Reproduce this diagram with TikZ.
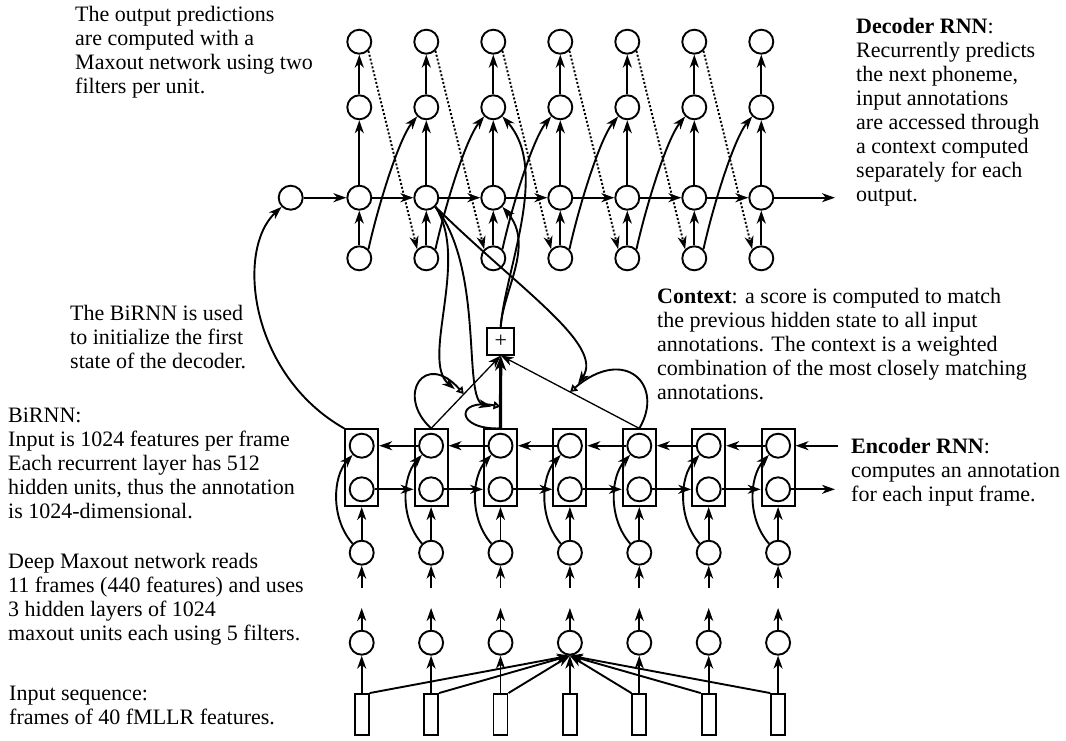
\documentclass[tikz,border=0pt]{standalone}
\usepackage{fontspec}
\setmainfont{Liberation Serif}
\usetikzlibrary{arrows.meta,calc}
\begin{document}
\begin{tikzpicture}[x=1pt,y=-1pt,
  unit/.style={circle,draw,line width=1.9pt,minimum size=24pt,inner sep=0pt},
  ebox/.style={draw,line width=1.9pt,minimum width=33pt,minimum height=76.7pt,inner sep=0pt},
  frm/.style={draw,line width=1.9pt,minimum width=14pt,minimum height=41pt,inner sep=0pt},
  pbox/.style={draw,line width=1.9pt,minimum size=26.7pt,inner sep=0pt,font=\fontsize{22}{22}\selectfont},
  arr/.style={line width=1.9pt,-{Stealth[length=13pt,width=9pt,inset=4pt]}},
  thinarr/.style={line width=1.3pt,-{Stealth[length=13pt,width=9pt,inset=4pt]}},
  thickarr/.style={line width=3.2pt,-{Stealth[length=15pt,width=11pt,inset=4.5pt]}},
  dotarr/.style={arr,dash pattern=on 2pt off 2pt},
  looparr/.style={line width=1.9pt,-{Triangle[open,length=7pt,width=8pt]}},
  txt/.style={inner sep=0pt,anchor=north west,align=left,font=\fontsize{22}{24}\selectfont}
]
\useasboundingbox (0,0) rectangle (1066,740);

% ---------------- decoder ----------------
\foreach \i in {0,...,6}{
  \pgfmathsetmacro{\xx}{359.3+67*\i}
  \node[unit] (do\i) at (\xx,41.7) {};
  \node[unit] (dm\i) at (\xx,107.3) {};
  \node[unit] (dh\i) at (\xx,197.7) {};
  \node[unit] (db\i) at (\xx,258.3) {};
}
\node[unit] (init) at (290.7,197.7) {};
\coordinate (dend) at (835,197.7);

\foreach \i in {0,...,6}{
  \draw[arr] (db\i) -- (dh\i);
  \draw[arr] (dh\i) -- (dm\i);
  \draw[arr] (dm\i) -- (do\i);
}
\draw[arr] (init) -- (dh0);
\foreach \i [count=\j] in {0,...,5}{
  \draw[arr] (dh\i) -- (dh\j);
  \draw[dotarr] (do\i.south east) -- (db\j.north west);
  \draw[arr] (db\i.north east) .. controls +(10,-45) and +(-18,22) .. (dm\j.south west);
}
\draw[arr] (dh6) -- (dend);

% ---------------- encoder ----------------
\foreach \i in {0,...,6}{
  \pgfmathsetmacro{\xx}{361.7+69.4*\i}
  \node[ebox] (eb\i) at (\xx,467.7) {};
  \node[unit] (bw\i) at (\xx,445.7) {};
  \node[unit] (fw\i) at (\xx,489.3) {};
  \node[unit] (em\i) at (\xx,552.7) {};
  \node[unit] (el\i) at (\xx,642.7) {};
  \node[frm] (fr\i) at (\xx,714.5) {};
  \coordinate (gt\i) at (\xx,608);
  \coordinate (gb\i) at (\xx,588);
}
\foreach \i in {0,...,6}{
  \draw[arr] (em\i) -- (eb\i);
  \draw[arr] (el\i) -- (gt\i);
  \draw[arr] (gb\i) -- (em\i);
  \draw[arr] (fr\i) -- (el\i);
  \draw[arr] (em\i.north west) .. controls +(-22,-25) and +(-20,22) .. (bw\i.south west);
}
\foreach \i [count=\j] in {0,...,5}{
  \draw[arr] (fw\i) -- (eb\j.west |- fw\j);
  \draw[arr] (bw\j) -- (eb\i.east |- bw\i);
}
\coordinate (efend) at (835,489.3);
\coordinate (ebstart) at (838,445.7);
\draw[arr] (fw6) -- (efend);
\draw[arr] (ebstart) -- (eb6.east |- bw6);
\foreach \i in {0,1,2}{ \draw[arr] (fr\i.north east) -- (el3.south); }
\foreach \i in {4,5,6}{ \draw[arr] (fr\i.north west) -- (el3.south); }

% BiRNN -> first decoder state
\draw[arr] (eb0.north west) .. controls (250,375) and (235,250) .. (init.south west);

% ---------------- attention / context ----------------
\node[pbox] (plus) at (500.7,341.2) {+};
\coordinate (g1) at ($(eb1.north)!0.47!(plus.south)$);
\coordinate (g2) at ($(eb2.north)!0.3!(plus.south)$);
\coordinate (g4) at ($(eb4.north)!0.5!(plus.south)$);
\draw[thinarr] (eb1.north) -- (plus.south);
\draw[thinarr] (eb4.north) -- (plus.south);
\draw[thickarr] (eb2.north) -- (plus.south);

\draw[looparr] (eb1.north) .. controls (395,395) and (425,350) .. (g1);
\draw[looparr] (eb2.north) .. controls (455,430) and (455,398) .. (g2);
\draw[looparr] (eb4.north) .. controls (665,385) and (625,345) .. (g4);

\coordinate (h1) at ($(g1)+(-9,-5)$);
\coordinate (h2) at ($(g2)+(-9,0)$);
\coordinate (h4) at ($(g4)+(8,-8)$);
\draw[arr] (dh1.south east) .. controls (470,260) and (420,360) .. (h1);
\draw[arr] (dh1.south east) .. controls (485,270) and (462,400) .. (h2);
\draw[arr] (dh1.south east) .. controls (520,290) and (605,345) .. (h4);

\draw[arr] (plus.north) .. controls (503,290) and (535,245) .. (dh2.south east);
\draw[arr] (plus.north) .. controls (505,270) and (550,170) .. (dm2.south east);

% ---------------- texts ----------------
\node[txt] (tout) at (75,6.5) {The output predictions\\are computed with a\\Maxout network using two\\filters per unit.};
\node[txt] (tdec) at (856,18) {\textbf{Decoder RNN}:\\Recurrently predicts\\the next phoneme,\\input annotations\\are accessed through\\a context computed\\separately for each\\output.};
\node[txt] (tinit) at (70,305) {The BiRNN is used\\to initialize the first\\state of the decoder.};
\node[txt] (tbirnn) at (8,408) {BiRNN:\\Input is 1024 features per frame\\Each recurrent layer has 512\\hidden units, thus the annotation\\is 1024-dimensional.};
\node[txt] (tdeep) at (8,553) {Deep Maxout network reads\\11 frames (440 features) and uses\\3 hidden layers of 1024\\maxout units each using 5 filters.};
\node[txt] (tin) at (9,686) {Input sequence:\\frames of 40 fMLLR features.};
\node[txt] (tctx) at (657,288) {\textbf{Context}: a score is computed to match\\the previous hidden state to all input\\annotations. The context is a weighted\\combination of the most closely matching\\annotations.};
\node[txt] (tenc) at (851,438) {\textbf{Encoder RNN}:\\computes an annotation\\for each input frame.};
\end{tikzpicture}
\end{document}
